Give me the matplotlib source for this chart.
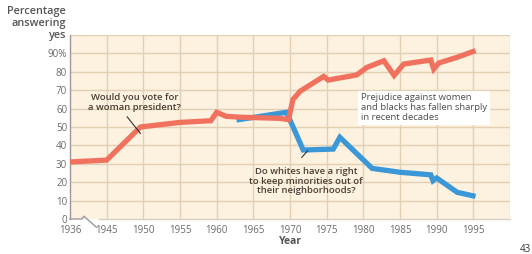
import matplotlib
matplotlib.use("Agg")
import matplotlib.pyplot as plt
import numpy as np

# Data
women_years = [1936, 1945, 1949.6, 1955, 1959.2, 1960, 1961.3, 1963.4, 1968.6, 1969.8,
               1970.4, 1971.4, 1974.6, 1975.2, 1979.1, 1980.5, 1982.8, 1984.2, 1985.5,
               1989.2, 1989.6, 1990.3, 1992.8, 1995.3]
women_vals = [31, 32, 50, 52.5, 53.4, 58, 55.8, 55.3, 54.7, 54,
              65, 69.5, 77.5, 75.5, 78.3, 82.4, 86, 78, 84.2,
              86.4, 81.5, 84.8, 87.9, 91.5]

minority_years = [1962.7, 1969.5, 1970.2, 1971.8, 1975.9, 1976.8, 1981.2, 1985,
                  1989.2, 1989.5, 1990, 1992.8, 1995.3]
minority_vals = [53.8, 58, 52, 37.5, 38, 44.4, 27.5, 25.4,
                 24, 20.8, 22.3, 14.5, 12.3]

xtick_years = [1936, 1945, 1950, 1955, 1960, 1965, 1970, 1975, 1980, 1985, 1990, 1995]
ytick_vals = [0, 10, 20, 30, 40, 50, 60, 70, 80, 90]
ytick_labels = ["0", "10", "20", "30", "40", "50", "60", "70", "80", "90%"]


def xpos(y):
    y = np.asarray(y, dtype=float)
    return np.where(y < 1945, 1940 + (y - 1936) * 5 / 9, y)


plt.rcParams['font.family'] = ['Open Sans', 'DejaVu Sans']

fig = plt.figure(figsize=(5.32, 2.54), dpi=100)
ax = fig.add_axes([70/532, 1 - 219/254, (510-70)/532, (219-35)/254])
ax.set_facecolor('#fdf1df')

ax.set_xlim(1940, 2000)
ax.set_ylim(0, 100)

grid_c = '#e3cfb4'
for yv in range(10, 101, 10):
    ax.axhline(yv, color=grid_c, lw=1.0, zorder=1)
for xv in xtick_years[1:] + [2000]:
    ax.axvline(xv, color=grid_c, lw=1.0, zorder=1)

red = '#f0725e'
blue = '#3b98d8'
ax.plot(xpos(minority_years), minority_vals, color=blue, lw=3.8, zorder=3,
        solid_joinstyle='miter', solid_capstyle='butt')
ax.plot(xpos(women_years), women_vals, color=red, lw=3.8, zorder=4,
        solid_joinstyle='miter', solid_capstyle='butt')

for s in ['top', 'right', 'bottom']:
    ax.spines[s].set_visible(False)
ax.spines['left'].set_color('#9a9a9a')
ax.spines['left'].set_linewidth(1.0)

# broken bottom axis
axc = '#9a9a9a'
ax.plot([1940, 1941.6, 1941.9, 1943.6], [0, 0, 1.5, -4.5], color=axc, lw=1.0,
        clip_on=False, zorder=5)
ax.plot([1943.9, 2000], [0, 0], color='#d8d0c4', lw=1.0, clip_on=False, zorder=5)

tick_c = '#6a6a6a'
ax.set_xticks(xpos(xtick_years))
ax.set_xticklabels([str(y) for y in xtick_years], fontsize=7, color=tick_c)
ax.set_yticks(ytick_vals)
ax.set_yticklabels(ytick_labels, fontsize=7, color=tick_c)
ax.tick_params(axis='x', length=0, pad=4)
ax.tick_params(axis='y', length=0, pad=2)

ax.set_xlabel('Year', fontsize=7.5, color='#555555', fontweight='bold', labelpad=0)

fig.text(66/532, 1 - 41/254, 'Percentage\nanswering\nyes', ha='right', va='bottom',
         fontsize=7.8, color='#555555', fontweight='semibold', linespacing=1.1)

txt_c = '#4a3f36'
ax.text(1948.8, 63.5, 'Would you vote for\na woman president?', ha='center', va='center',
        fontsize=6.8, color=txt_c, fontweight='semibold', linespacing=1.1, zorder=6)
ax.plot([1947.8, 1949.6], [55.5, 46.5], color='#333333', lw=0.8, zorder=6)

ax.text(1972.2, 20.5, 'Do whites have a right\nto keep minorities out of\ntheir neighborhoods?',
        ha='center', va='center', fontsize=6.8, color=txt_c, fontweight='semibold',
        linespacing=1.1, zorder=6)
ax.plot([1971.6, 1972.4], [33.5, 37], color='#333333', lw=0.8, zorder=6)

ax.text(1979.7, 60.5, 'Prejudice against women\nand blacks has fallen sharply\nin recent decades',
        ha='left', va='center', fontsize=6.8, color='#4d4d4d', linespacing=1.1, zorder=6,
        bbox=dict(boxstyle='square,pad=0.3', fc='white', ec='none'))

fig.text(525/532, 1 - 249/254, '43', ha='center', va='center', fontsize=7, color='#333333')

fig.savefig('out.png', dpi=100)
